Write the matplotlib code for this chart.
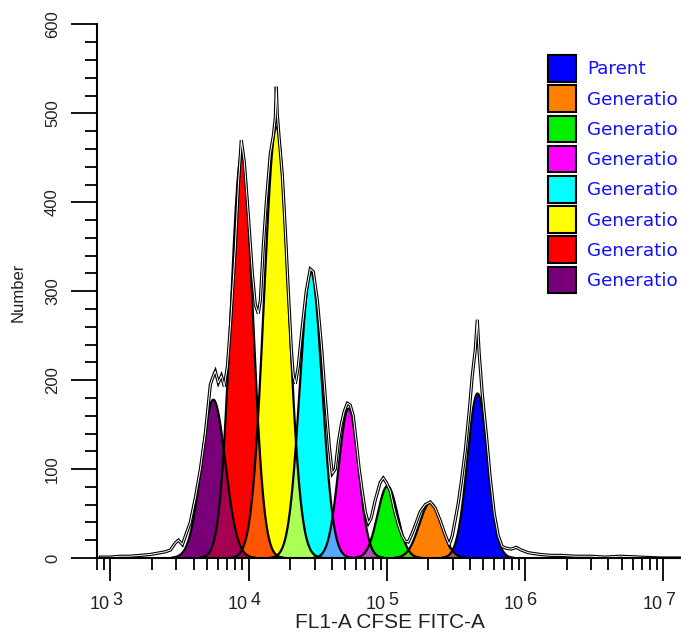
import numpy as np
import matplotlib
matplotlib.use("Agg")
import matplotlib.pyplot as plt
from matplotlib.patches import Rectangle
from matplotlib.ticker import LogLocator, NullFormatter, MultipleLocator

plt.rcParams['font.family'] = ['Liberation Sans', 'DejaVu Sans']

# fitted generation peaks: centre in log10(FL1-A), height in events, width in decades
legend_text = ["Parent", "Generatio", "Generatio", "Generatio",
               "Generatio", "Generatio", "Generatio", "Generatio"]
colors = ["#0000ff", "#ff8000", "#00f000", "#ff00ff",
          "#00ffff", "#ffff00", "#ff0000", "#7a007a"]
centers = [5.656, 5.314, 5.005, 4.723, 4.451, 4.200, 3.950, 3.745]
heights = [185, 62, 81, 168, 322, 485, 455, 178]
widths = [0.073, 0.080, 0.072, 0.072, 0.080, 0.088, 0.080, 0.086]

# measured histogram outline (log10 of FL1-A, number of events)
outline_log = [2.928, 3.000, 3.072, 3.145, 3.217, 3.289, 3.362, 3.398, 3.434, 3.470,
               3.492, 3.521, 3.550, 3.578, 3.615, 3.651, 3.687, 3.723, 3.745, 3.759,
               3.781, 3.803, 3.824, 3.846, 3.868, 3.904, 3.926, 3.947, 3.969, 3.998,
               4.027, 4.048, 4.070, 4.085, 4.106, 4.128, 4.157, 4.179, 4.193, 4.200,
               4.207, 4.222, 4.244, 4.265, 4.287, 4.309, 4.323, 4.338, 4.359, 4.388,
               4.417, 4.446, 4.468, 4.497, 4.526, 4.555, 4.584, 4.605, 4.627, 4.649,
               4.670, 4.692, 4.714, 4.735, 4.757, 4.779, 4.800, 4.822, 4.844, 4.866,
               4.887, 4.916, 4.952, 4.974, 4.996, 5.025, 5.053, 5.082, 5.111, 5.133,
               5.155, 5.184, 5.213, 5.241, 5.278, 5.314, 5.350, 5.386, 5.422, 5.451,
               5.473, 5.495, 5.517, 5.538, 5.567, 5.596, 5.618, 5.640, 5.654, 5.668,
               5.690, 5.719, 5.748, 5.777, 5.806, 5.834, 5.863, 5.900, 5.936, 5.972,
               6.022, 6.109, 6.181, 6.254, 6.362, 6.471, 6.579, 6.688, 6.832, 6.977,
               7.128]
outline_count = [1, 1, 2, 2, 3, 4, 6, 7, 9, 17,
                 20, 15, 28, 40, 68, 100, 140, 195, 205, 210,
                 197, 205, 193, 215, 260, 350, 420, 470, 445, 385,
                 320, 285, 275, 290, 350, 400, 455, 475, 495, 530,
                 500, 470, 430, 370, 300, 235, 205, 196, 215, 260,
                 300, 325, 322, 290, 240, 180, 125, 95, 100, 130,
                 150, 165, 174, 172, 160, 130, 100, 75, 52, 39,
                 45, 65, 85, 90, 85, 75, 55, 38, 25, 19,
                 18, 28, 40, 52, 60, 63, 56, 42, 26, 15,
                 25, 43, 62, 85, 120, 165, 205, 235, 268, 230,
                 185, 140, 90, 50, 25, 13, 11, 10, 12, 9,
                 6, 4, 3, 3, 2, 2, 1, 2, 1, 0,
                 0]

W, H = 681, 635
fig = plt.figure(figsize=(W / 100, H / 100), dpi=100)
ax = fig.add_axes([97 / W, 77 / H, 1 - 97 / W, (558 - 24.5) / H])

grid = np.linspace(2.9, 7.13, 3000)
xs = 10 ** grid
curves = []
for c, h, s in zip(centers, heights, widths):
    curves.append(h * np.exp(-0.5 * ((grid - c) / s) ** 2))

for y, col in zip(curves, colors):
    ax.fill_between(xs, 0, y, color=col, lw=0, zorder=1)

# where two peaks overlap the later generation shows through at 2/3
for i in range(len(curves) - 1):
    a = np.array(matplotlib.colors.to_rgb(colors[i]))
    b = np.array(matplotlib.colors.to_rgb(colors[i + 1]))
    ov = np.minimum(curves[i], curves[i + 1])
    ax.fill_between(xs, 0, ov, color=(a + 2 * b) / 3, lw=0, zorder=1.5)

for y in curves:
    m = y > 0.4
    ax.plot(xs[m], y[m], color="black", lw=1.6, zorder=2)

ox = 10 ** np.array(outline_log)
ax.plot(ox, outline_count, color="black", lw=2.3, zorder=3, solid_joinstyle="miter")
ax.plot(ox, outline_count, color="white", lw=0.7, zorder=3.1)

ax.set_xscale("log")
ax.set_xlim(800, 10 ** 7.128)
ax.set_ylim(0, 600)

for s in ["top", "right"]:
    ax.spines[s].set_visible(False)
for s in ["left", "bottom"]:
    ax.spines[s].set_linewidth(1.5)
    ax.spines[s].set_zorder(4)

ax.xaxis.set_major_locator(LogLocator(base=10, numticks=10))
ax.xaxis.set_minor_locator(LogLocator(base=10, subs=np.arange(2, 10), numticks=100))
ax.xaxis.set_major_formatter(NullFormatter())
ax.xaxis.set_minor_formatter(NullFormatter())
ax.tick_params(axis="x", which="major", length=16.5, width=1.3, direction="out")
ax.tick_params(axis="x", which="minor", length=8.3, width=1.3, direction="out")

ax.yaxis.set_major_locator(MultipleLocator(100))
ax.yaxis.set_minor_locator(MultipleLocator(20))
ax.tick_params(axis="y", which="major", length=18.7, width=1.3, direction="out",
               pad=8, labelsize=12, labelcolor="#222222", labelrotation=90)
ax.tick_params(axis="y", which="minor", length=8.6, width=1.3, direction="out")
for lab in ax.get_yticklabels():
    lab.set_va("center")

for k in range(3, 8):
    ax.annotate("10", xy=(10 ** k, 0), xycoords=("data", "axes fraction"),
                xytext=(-0.7, -33.8), textcoords="offset points",
                ha="right", va="center", fontsize=13, color="#222222",
                annotation_clip=False)
    ax.annotate(str(k), xy=(10 ** k, 0), xycoords=("data", "axes fraction"),
                xytext=(1.1, -30.6), textcoords="offset points",
                ha="left", va="center", fontsize=13, color="#222222",
                annotation_clip=False)

fig.text(390 / W, 1 - 623 / H, "FL1-A CFSE FITC-A", ha="center", va="center",
         fontsize=15, color="#222222")
fig.text(18 / W, 1 - 292 / H, "Number", ha="center", va="center",
         rotation=90, fontsize=12, color="#222222")

# legend drawn by hand so it sits against the right edge like the original
for i, (name, col) in enumerate(zip(legend_text, colors)):
    cy = 68.5 + 30.2 * i
    fig.add_artist(Rectangle((547.5 / W, 1 - (cy + 13.3) / H), 28 / W, 26.6 / H,
                             transform=fig.transFigure, facecolor=col,
                             edgecolor="black", lw=1.5))
    fig.text(587 / W, 1 - (cy + 1) / H, name, ha="left", va="center",
             fontsize=13.2, color="#1010ff", family="DejaVu Sans")

fig.savefig("out.png", dpi=100)
